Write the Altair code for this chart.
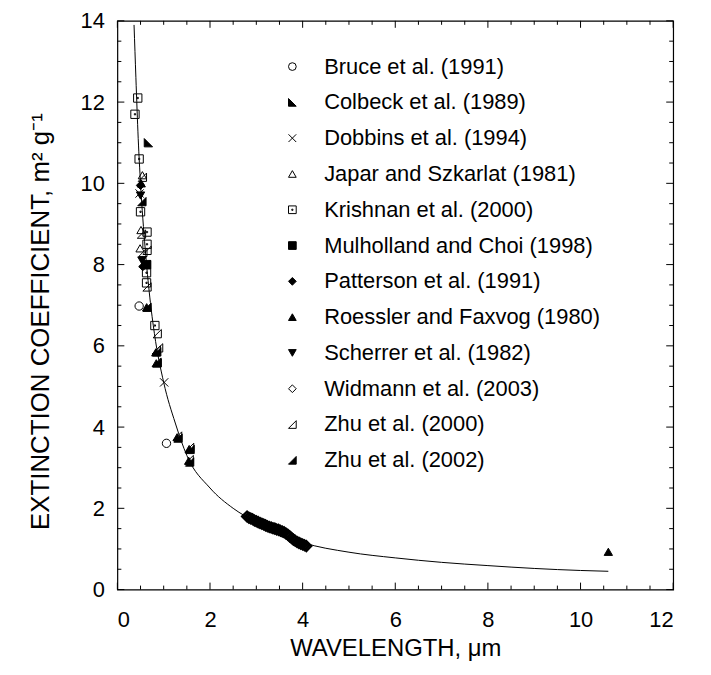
import altair as alt
import pandas as pd

studies = ["Bruce et al. (1991)", "Colbeck et al. (1989)", "Dobbins et al. (1994)",
           "Japar and Szkarlat (1981)", "Krishnan et al. (2000)", "Mulholland and Choi (1998)",
           "Patterson et al. (1991)", "Roessler and Faxvog (1980)", "Scherrer et al. (1982)",
           "Widmann et al. (2003)", "Zhu et al. (2000)", "Zhu et al. (2002)"]

bruce_wl = [0.47, 1.06]
bruce_ext = [6.98, 3.60]
colbeck_wl = [0.67]
colbeck_ext = [11.0]
dobbins_wl = [1.01, 0.48]
dobbins_ext = [5.10, 9.75]
japar_wl = [0.54, 0.51, 0.49]
japar_ext = [10.2, 8.85, 8.4]
krishnan_wl = [0.44, 0.38, 0.47, 0.50, 0.64, 0.64, 0.63, 0.63, 0.81]
krishnan_ext = [12.1, 11.7, 10.6, 9.3, 8.8, 8.5, 7.8, 7.55, 6.5]
mulholland_wl = [0.6328]
mulholland_ext = [8.0]
patterson_wl = [0.55, 0.50]
patterson_ext = [7.95, 9.95]
roessler_wl = [0.5145, 0.6328, 0.83, 0.84, 1.29, 1.55, 1.54, 10.6]
roessler_ext = [10.0, 6.95, 5.84, 5.57, 3.75, 3.46, 3.17, 0.93]
scherrer_wl = [0.50, 0.53]
scherrer_ext = [9.7, 8.1]
widmann_wl = [2.80, 2.84, 2.88, 2.92, 2.96, 3.00, 3.04, 3.08, 3.12, 3.16, 3.20, 3.24,
              3.28, 3.32, 3.36, 3.40, 3.44, 3.48, 3.52, 3.56, 3.60, 3.64, 3.68, 3.72,
              3.76, 3.80, 3.84, 3.88, 3.92, 3.96, 4.00, 4.04, 4.08]
widmann_ext = [1.80, 1.77, 1.75, 1.73, 1.70, 1.68, 1.66, 1.64, 1.62, 1.60, 1.58, 1.56,
               1.54, 1.53, 1.51, 1.50, 1.48, 1.47, 1.45, 1.43, 1.41, 1.38, 1.35, 1.31,
               1.27, 1.23, 1.20, 1.17, 1.15, 1.13, 1.11, 1.09, 1.07]
zhu2000_wl = [0.54, 0.52, 0.64, 0.55, 0.64, 0.86, 0.89, 1.30, 1.56, 1.55, 0.84, 0.85]
zhu2000_ext = [10.15, 8.75, 8.35, 8.3, 7.45, 6.3, 5.95, 3.78, 3.5, 3.2, 5.9, 5.6]
zhu2002_wl = [0.53, 0.62, 0.85, 0.86, 1.31, 1.57, 1.56, 0.64]
zhu2002_ext = [9.55, 8.0, 5.85, 5.58, 3.73, 3.45, 3.14, 6.95]

curve_wl = [0.36, 0.40, 0.45, 0.50, 0.60, 0.70, 0.80, 1.00, 1.25, 1.50, 2.00, 2.50,
            3.00, 3.50, 4.00, 5.00, 6.00, 7.00, 8.00, 9.00, 10.0, 10.6]
curve_ext = [13.9, 12.6, 11.1, 10.0, 8.4, 7.2, 6.3, 5.1, 4.1, 3.3, 2.5, 2.0,
             1.66, 1.38, 1.16, 0.92, 0.78, 0.67, 0.59, 0.52, 0.47, 0.45]

x_major = [0, 2, 4, 6, 8, 10, 12]
x_minor = [0.5, 1, 1.5, 2.5, 3, 3.5, 4.5, 5, 5.5, 6.5, 7, 7.5, 8.5, 9, 9.5, 10.5, 11, 11.5]
y_major = [0, 2, 4, 6, 8, 10, 12, 14]
y_minor = [0.5, 1, 1.5, 2.5, 3, 3.5, 4.5, 5, 5.5, 6.5, 7, 7.5, 8.5, 9, 9.5,
           10.5, 11, 11.5, 12.5, 13, 13.5]

series = [bruce_wl, colbeck_wl, dobbins_wl, japar_wl, krishnan_wl, mulholland_wl,
          patterson_wl, roessler_wl, scherrer_wl, widmann_wl, zhu2000_wl, zhu2002_wl]
series_y = [bruce_ext, colbeck_ext, dobbins_ext, japar_ext, krishnan_ext, mulholland_ext,
            patterson_ext, roessler_ext, scherrer_ext, widmann_ext, zhu2000_ext, zhu2002_ext]

rows = []
for name, xs_, ys_ in zip(studies, series, series_y):
    for a, b in zip(xs_, ys_):
        rows.append({"study": name, "wl": a, "ext": b})
df = pd.DataFrame(rows)
curve_df = pd.DataFrame({"wl": curve_wl, "ext": curve_ext})
band_df = pd.DataFrame({"wl": widmann_wl, "ext": widmann_ext})

shape_range = ["circle", "M-1,-1L1,1L-1,1Z", "M-1,-1L1,1M-1,1L1,-1", "triangle-up",
               "M-1,-1H1V1H-1Z M-0.15,-0.15H0.15V0.15H-0.15Z", "square", "diamond",
               "triangle-up", "triangle-down", "diamond", "M1,-1L1,1L-1,1Z", "M1,-1L1,1L-1,1Z"]
fill_range = ["transparent", "black", "transparent", "transparent", "transparent", "black",
              "black", "black", "black", "transparent", "transparent", "black"]
stroke_range = ["black"] * 12

FONT = "Liberation Sans"
W, H = 559, 572

xs = alt.Scale(domain=[0, 12], nice=False, zero=False)
ys = alt.Scale(domain=[0, 14], nice=False, zero=False)
x_axis = alt.Axis(title="WAVELENGTH, \u03bcm", values=x_major, ticks=False, domain=False, grid=False,
                  labelFontSize=22, labelPadding=20, titleFontSize=24, titleY=47, format="d")
y_axis = alt.Axis(title="EXTINCTION COEFFICIENT, m\u00b2 g\u207b\u00b9", values=y_major, ticks=False,
                  domain=False, grid=False, labelFontSize=22, labelPadding=13, titleFontSize=26,
                  titleX=-64, titleY=302, format="d")

leg = alt.Legend(title=None, orient="none", legendX=165, legendY=35, labelFontSize=22,
                 labelFont=FONT, labelColor="black", symbolSize=60, symbolStrokeWidth=1,
                 labelOffset=21, rowPadding=14, padding=0, labelLimit=400)

points = alt.Chart(df).mark_point(opacity=1, size=70, strokeWidth=1).encode(
    x=alt.X("wl:Q", scale=xs, axis=x_axis),
    y=alt.Y("ext:Q", scale=ys, axis=y_axis),
    shape=alt.Shape("study:N", scale=alt.Scale(domain=studies, range=shape_range), legend=leg),
    fill=alt.Fill("study:N", scale=alt.Scale(domain=studies, range=fill_range), legend=leg),
    stroke=alt.Stroke("study:N", scale=alt.Scale(domain=studies, range=stroke_range), legend=leg),
)

band = alt.Chart(band_df).mark_point(shape="diamond", size=95, strokeWidth=2.4, stroke="black",
                                     fill="transparent", opacity=1).encode(
    x=alt.X("wl:Q", scale=xs, axis=x_axis),
    y=alt.Y("ext:Q", scale=ys, axis=y_axis),
)

curve = alt.Chart(curve_df).mark_line(color="black", strokeWidth=1, interpolate="monotone").encode(
    x=alt.X("wl:Q", scale=xs, axis=x_axis),
    y=alt.Y("ext:Q", scale=ys, axis=y_axis),
)


def xticks(vals, length):
    d = pd.DataFrame({"wl": vals})
    b = alt.Chart(d).mark_rule(color="black", strokeWidth=1).encode(
        x=alt.X("wl:Q", scale=xs, axis=x_axis), y=alt.value(H), y2=alt.value(H - length))
    t = alt.Chart(d).mark_rule(color="black", strokeWidth=1).encode(
        x=alt.X("wl:Q", scale=xs, axis=x_axis), y=alt.value(0), y2=alt.value(length))
    return [b, t]


def yticks(vals, length):
    d = pd.DataFrame({"ext": vals})
    l = alt.Chart(d).mark_rule(color="black", strokeWidth=1).encode(
        y=alt.Y("ext:Q", scale=ys, axis=y_axis), x=alt.value(0), x2=alt.value(length))
    r = alt.Chart(d).mark_rule(color="black", strokeWidth=1).encode(
        y=alt.Y("ext:Q", scale=ys, axis=y_axis), x=alt.value(W), x2=alt.value(W - length))
    return [l, r]


layers = [curve, points, band] + xticks(x_major, 7) + xticks(x_minor, 4) + yticks(y_major, 7) + yticks(y_minor, 4)

chart = alt.layer(*layers).properties(
    width=W, height=H,
    autosize=alt.AutoSizeParams(type="none"),
    padding={"left": 110, "top": 11, "right": 30, "bottom": 84},
).configure_view(stroke="black", strokeWidth=1.2).configure_axis(
    labelFont=FONT, titleFont=FONT, labelColor="black", titleColor="black", titleFontWeight="normal"
).configure_legend(labelFont=FONT)

chart.save("out.html", embed_options={"renderer": "svg", "actions": False})
